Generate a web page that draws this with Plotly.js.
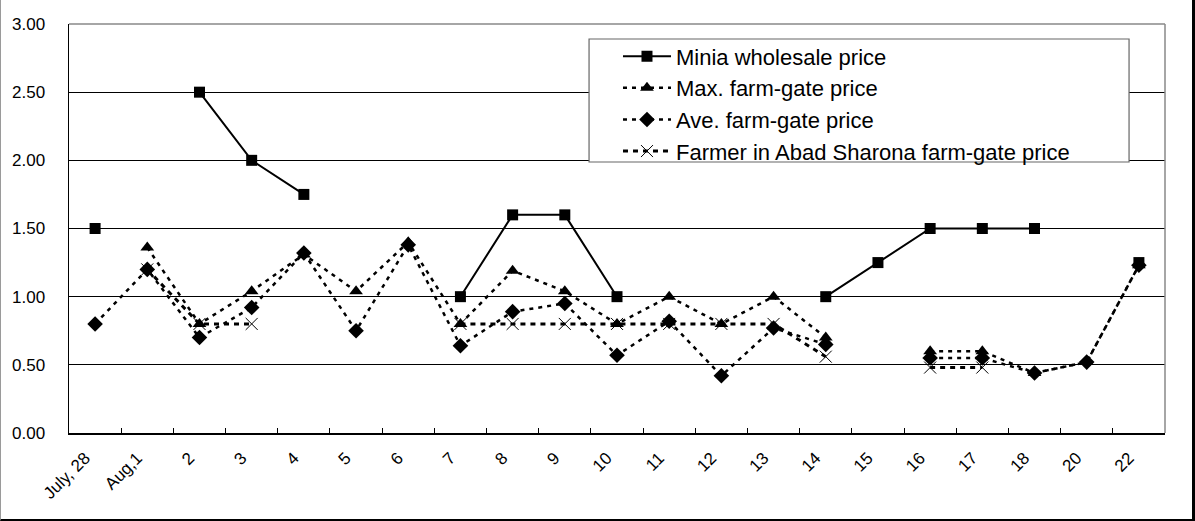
<!DOCTYPE html>
<html>
<head>
<meta charset="utf-8">
<script src="https://cdn.plot.ly/plotly-3.0.1.min.js"></script>
<style>
  html, body { margin: 0; padding: 0; background: #fff; }
  #wrap { position: relative; width: 1195px; height: 521px; }
  #chart { position: absolute; left: 0; top: 0; width: 1195px; height: 521px; }
  #frame { position: absolute; left: 0; top: 0; width: 1195px; height: 521px; box-sizing: border-box;
           border-left: 1px solid #9a9a9a; border-right: 3px solid #000; border-bottom: 2px solid #000; pointer-events: none; }
</style>
</head>
<body>
<div id="wrap"><div id="chart"></div><div id="frame"></div></div>
<script>
const categories = ["July, 28", "Aug,1", "2", "3", "4", "5", "6", "7", "8", "9", "10", "11", "12", "13", "14", "15", "16", "17", "18", "20", "22"];
const miniaWholesale = [1.50, null, 2.50, 2.00, 1.75, null, null, 1.00, 1.60, 1.60, 1.00, null, null, null, 1.00, 1.25, 1.50, 1.50, 1.50, null, 1.25];
const maxFarmGate    = [null, 1.36, 0.80, 1.04, 1.31, 1.04, 1.40, 0.80, 1.19, 1.04, 0.80, 1.00, 0.80, 1.00, 0.70, null, 0.60, 0.60, 0.44, 0.52, 1.23];
const aveFarmGate    = [0.80, 1.20, 0.70, 0.92, 1.32, 0.75, 1.38, 0.64, 0.89, 0.95, 0.57, 0.82, 0.42, 0.77, 0.65, null, 0.55, 0.55, 0.44, 0.52, 1.23];
const farmerAbad     = [null, 1.20, 0.80, 0.80, null, null, null, 0.80, 0.80, 0.80, 0.80, 0.80, 0.80, 0.80, 0.56, null, 0.48, 0.48, null, null, null];
const seriesNames = ["Minia wholesale price", "Max. farm-gate price", "Ave. farm-gate price", "Farmer in Abad Sharona farm-gate price"];
const yTicks = [0, 0.5, 1.0, 1.5, 2.0, 2.5, 3.0];

const traces = [
  { x: categories, y: miniaWholesale, name: seriesNames[0], type: 'scatter', mode: 'lines+markers',
    line: { color: '#000', width: 2 }, marker: { symbol: 'square', size: 11, color: '#000' } },
  { x: categories, y: maxFarmGate, name: seriesNames[1], type: 'scatter', mode: 'lines+markers',
    line: { color: '#000', width: 2.5, dash: '4px,5px' }, marker: { symbol: 'triangle-up', size: 12, color: '#000' } },
  { x: categories, y: aveFarmGate, name: seriesNames[2], type: 'scatter', mode: 'lines+markers',
    line: { color: '#000', width: 2.5, dash: '4px,5px' }, marker: { symbol: 'diamond', size: 12, color: '#000' } },
  { x: categories, y: farmerAbad, name: seriesNames[3], type: 'scatter', mode: 'lines+markers',
    line: { color: '#000', width: 3, dash: '5px,5px' }, marker: { symbol: 'x-thin-open', size: 12, color: '#000', line: { width: 1, color: '#000' } } }
];

const layout = {
  width: 1195, height: 521,
  margin: { l: 69, r: 30, t: 24, b: 88 },
  paper_bgcolor: '#fff', plot_bgcolor: '#fff',
  font: { family: 'Liberation Sans, Arial, sans-serif', color: '#000', size: 16 },
  showlegend: true,
  legend: {
    x: 0.5009, y: 0.972, xanchor: 'left', yanchor: 'top',
    bgcolor: 'rgba(0,0,0,0)', borderwidth: 0,
    font: { size: 22, family: 'Liberation Sans, Arial, sans-serif', color: '#000' },
    itemwidth: 48, tracegroupgap: 0
  },
  xaxis: {
    type: 'category', range: [-0.5, 20.5], tickson: 'boundaries',
    ticks: 'inside', ticklen: 5, tickcolor: '#000', tickwidth: 1,
    showgrid: false, showline: true, linecolor: '#000', linewidth: 1.5,
    tickangle: -45, tickfont: { size: 17 }, zeroline: false, fixedrange: true,
    ticklabelshift: -10, ticklabelstandoff: 7
  },
  yaxis: {
    range: [0, 3], tickvals: yTicks, tickformat: '.2f',
    showgrid: true, gridcolor: '#000', gridwidth: 1,
    showline: true, linecolor: '#000', linewidth: 1.5,
    ticks: '', ticklabelstandoff: 19, tickfont: { size: 17 }, zeroline: false, fixedrange: true
  },
  shapes: [
    { type: 'line', xref: 'paper', yref: 'paper', x0: 0, x1: 1, y0: 1, y1: 1, line: { color: '#888', width: 1.5 }, layer: 'above' },
    { type: 'line', xref: 'paper', yref: 'paper', x0: 1, x1: 1, y0: 0, y1: 1, line: { color: '#888', width: 1.5 }, layer: 'above' },
    { type: 'rect', xref: 'paper', yref: 'paper', x0: 0.4745, x1: 0.9672, y0: 0.6626, y1: 0.9633,
      fillcolor: '#fff', line: { color: '#666', width: 1.2 }, layer: 'above' }
  ]
};

Plotly.newPlot('chart', traces, layout, { displayModeBar: false, staticPlot: true });
</script>
</body>
</html>
